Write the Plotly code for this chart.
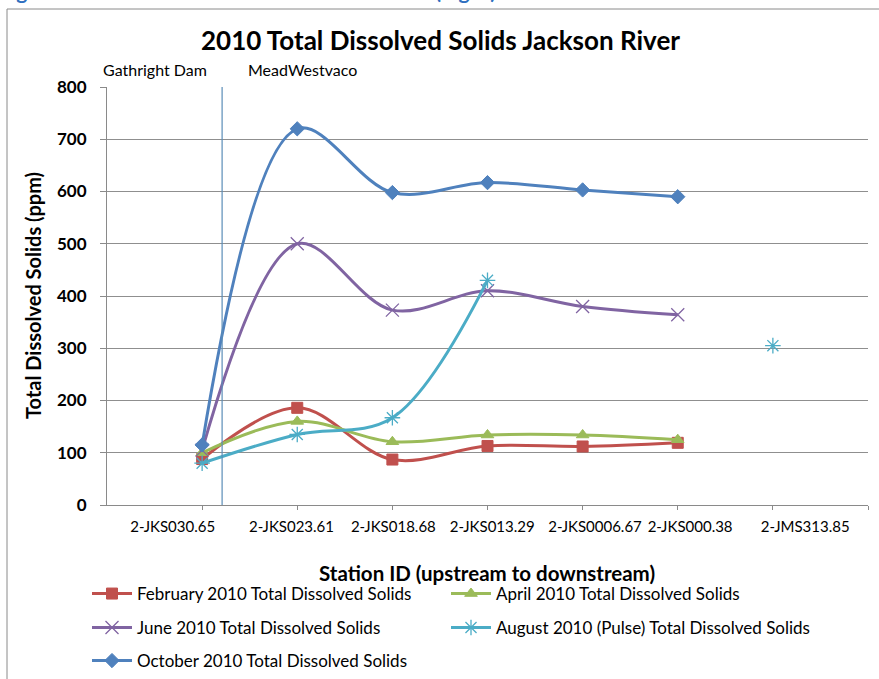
import plotly.graph_objects as go

# ---------------- data ----------------
stations = ["2-JKS030.65", "2-JKS023.61", "2-JKS018.68", "2-JKS013.29",
            "2-JKS0006.67", "2-JKS000.38", "2-JMS313.85"]
station_index = [1, 2, 3, 4, 5, 6, 7]

feb_tds = [88, 186, 87, 113, 112, 119, None]
apr_tds = [100, 160, 121, 134, 134, 125, None]
jun_tds = [105, 500, 373, 410, 380, 364, None]
aug_tds = [80, 135, 167, 430, None, None, 305]
oct_tds = [115, 720, 598, 617, 603, 590, None]

series_names = ["February 2010 Total Dissolved Solids",
                "April 2010 Total Dissolved Solids",
                "June 2010 Total Dissolved Solids",
                "August 2010 (Pulse) Total Dissolved Solids",
                "October 2010 Total Dissolved Solids"]

y_ticks = [0, 100, 200, 300, 400, 500, 600, 700, 800]

# ---------------- layout constants ----------------
W, H = 879, 679
ML, MR, MT, MB = 107, 11, 87, 174
PW = W - ML - MR
PH = H - MT - MB
FONT = "Lato"

# where Excel drew the category labels (axis units)
label_positions = [0.69, 1.94, 3.01, 4.05, 5.13, 6.13, 7.34]
divider_x = 1.21  # MeadWestvaco boundary line


def px_to_paper_x(px):
    return (px - ML) / PW


def px_to_paper_y(py):
    return (H - MB - py) / PH


styles = [
    dict(color="#C0504D", symbol="square", size=11, lw=1),
    dict(color="#9BBB59", symbol="triangle-up", size=11, lw=1),
    dict(color="#8064A2", symbol="x-thin-open", size=13, lw=1.3),
    dict(color="#4BACC6", symbol="asterisk-open", size=13, lw=1.3),
    dict(color="#4F81BD", symbol="diamond", size=11, lw=1),
]
# legend slot (x px, y px) for each series
legend_slots = [(87, 594), (446, 594), (87, 628), (446, 628), (87, 661)]
legend_ids = ["legend", "legend2", "legend3", "legend4", "legend5"]
all_series = [feb_tds, apr_tds, jun_tds, aug_tds, oct_tds]

fig = go.Figure()
for name, vals, st, lg in zip(series_names, all_series, styles, legend_ids):
    fig.add_trace(go.Scatter(
        x=station_index, y=vals, name=name, mode="lines+markers",
        line=dict(color=st["color"], width=3, shape="spline", smoothing=1.0),
        marker=dict(symbol=st["symbol"], size=st["size"], color=st["color"],
                    line=dict(color=st["color"], width=st["lw"])),
        connectgaps=False, legend=lg,
    ))

fig.add_vline(x=divider_x, line=dict(color="#5B8DB8", width=1.2))

# chart border (extends beyond the captured area on the right / bottom)
fig.add_shape(type="rect", xref="paper", yref="paper",
              x0=px_to_paper_x(7), x1=px_to_paper_x(W + 20),
              y0=px_to_paper_y(H + 20), y1=px_to_paper_y(9),
              line=dict(color="#8a8a8a", width=1), layer="below")

annotations = [
    dict(text="2010 Total Dissolved Solids Jackson River", x=px_to_paper_x(440),
         y=px_to_paper_y(40), font=dict(size=26, family=FONT, color="black"),
         bold=True),
    dict(text="Gathright Dam", x=px_to_paper_x(155), y=px_to_paper_y(69),
         font=dict(size=16, family=FONT, color="black")),
    dict(text="MeadWestvaco", x=px_to_paper_x(302), y=px_to_paper_y(69),
         font=dict(size=16, family=FONT, color="black")),
    dict(text="Station ID (upstream to downstream)", x=px_to_paper_x(487),
         y=px_to_paper_y(573), font=dict(size=20.5, family=FONT, color="black"),
         bold=True),
    dict(text="Total Dissolved Solids (ppm)", x=px_to_paper_x(33),
         y=px_to_paper_y(296), font=dict(size=20, family=FONT, color="black"),
         bold=True, textangle=-90),
    dict(text="Figure 14. Jackson River Total Dissolved Solids (mg/L)",
         x=px_to_paper_x(-3), xanchor="left", y=px_to_paper_y(5), yanchor="bottom",
         font=dict(size=21, family=FONT, color="#2F6FBF"), bold=True),
]
anns = []
for a in annotations:
    bold = a.pop("bold", False)
    if bold:
        a["text"] = "<b>" + a["text"] + "</b>"
    a.setdefault("xanchor", "center")
    a.setdefault("yanchor", "middle")
    anns.append(dict(xref="paper", yref="paper", showarrow=False, **a))

legend_common = dict(orientation="h", xanchor="left", yanchor="middle",
                     font=dict(size=17, family=FONT, color="black"),
                     bgcolor="rgba(0,0,0,0)", itemwidth=40)
legend_layout = {}
for lg, (lx, ly) in zip(legend_ids, legend_slots):
    legend_layout[lg] = dict(x=px_to_paper_x(lx), y=px_to_paper_y(ly), **legend_common)

fig.update_layout(
    width=W, height=H,
    margin=dict(l=ML, r=MR, t=MT, b=MB, autoexpand=False),
    paper_bgcolor="white", plot_bgcolor="white",
    font=dict(family=FONT, color="black"),
    showlegend=True,
    annotations=anns,
    xaxis=dict(
        range=[0, 8], tickmode="array", tickvals=label_positions, ticktext=stations,
        ticks="", showgrid=False, zeroline=False, showline=True, tickangle=0,
        linecolor="#8a8a8a", linewidth=1, ticklabelstandoff=8,
        tickfont=dict(size=15, family=FONT, color="black"),
        minor=dict(tickmode="array", tickvals=station_index + [8], ticks="outside",
                   ticklen=4, tickcolor="#8a8a8a", showgrid=False),
    ),
    yaxis=dict(
        range=[0, 800], tickmode="array", tickvals=y_ticks,
        showgrid=True, gridcolor="#8f8f8f", gridwidth=1, zeroline=False,
        showline=True, linecolor="#8a8a8a", linewidth=1,
        ticks="outside", ticklen=6, tickcolor="#8a8a8a", ticklabelstandoff=10,
        tickfont=dict(size=17, family=FONT, color="black", weight="bold"),
    ),
    **legend_layout,
)

fig.write_html("out.html", config={"displayModeBar": False},
               post_script="document.body.style.margin='0';document.body.style.padding='0';")
